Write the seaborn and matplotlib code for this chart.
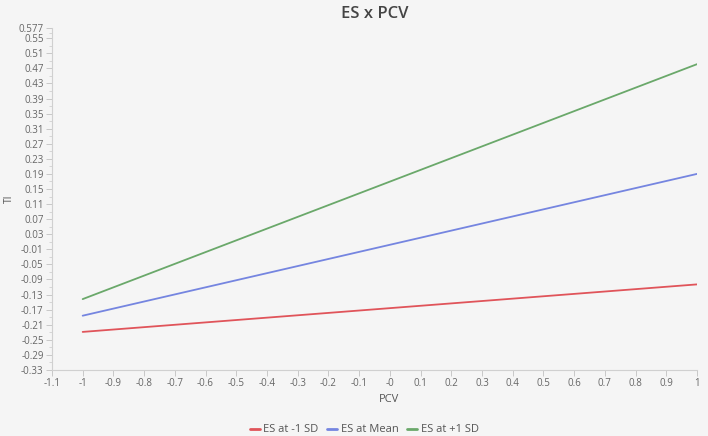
import matplotlib
matplotlib.use("Agg")
import matplotlib.pyplot as plt
import seaborn as sns
import pandas as pd
import numpy as np

# ---- data ----
pcv = [-1.0, 1.0]
es_minus = [-0.229, -0.103]
es_mean = [-0.186, 0.190]
es_plus = [-0.142, 0.481]
series_names = ["ES at -1 SD", "ES at Mean", "ES at +1 SD"]
series_colors = ["#e0545a", "#7585e0", "#6aa86a"]

x_ticks = [-1.1, -1.0, -0.9, -0.8, -0.7, -0.6, -0.5, -0.4, -0.3, -0.2, -0.1, 0.0,
           0.1, 0.2, 0.3, 0.4, 0.5, 0.6, 0.7, 0.8, 0.9, 1.0]
x_tick_labels = ["-1.1", "-1", "-0.9", "-0.8", "-0.7", "-0.6", "-0.5", "-0.4", "-0.3",
                 "-0.2", "-0.1", "-0", "0.1", "0.2", "0.3", "0.4", "0.5", "0.6",
                 "0.7", "0.8", "0.9", "1"]
y_ticks = [-0.33, -0.29, -0.25, -0.21, -0.17, -0.13, -0.09, -0.05, -0.01, 0.03, 0.07,
           0.11, 0.15, 0.19, 0.23, 0.27, 0.31, 0.35, 0.39, 0.43, 0.47, 0.51, 0.55, 0.577]
y_tick_labels = ["-0.33", "-0.29", "-0.25", "-0.21", "-0.17", "-0.13", "-0.09", "-0.05",
                 "-0.01", "0.03", "0.07", "0.11", "0.15", "0.19", "0.23", "0.27", "0.31",
                 "0.35", "0.39", "0.43", "0.47", "0.51", "0.55", "0.577"]

df = pd.DataFrame({
    "PCV": pcv * 3,
    "TI": es_minus + es_mean + es_plus,
    "series": [series_names[0]] * 2 + [series_names[1]] * 2 + [series_names[2]] * 2,
})

sns.set_theme(style="white")
plt.rcParams["font.family"] = ["Open Sans", "DejaVu Sans"]

bg = "#f5f5f5"
fig = plt.figure(figsize=(7.08, 4.36), dpi=100, facecolor=bg)
ax = fig.add_axes([0.0734, 0.1514, 0.911, 0.7844], facecolor=bg)

sns.lineplot(data=df, x="PCV", y="TI", hue="series", hue_order=series_names,
             palette=series_colors, linewidth=1.3, ax=ax, legend=True)

ax.set_xlim(-1.1, 1.0)
ax.set_ylim(-0.33, 0.577)
ax.set_xticks(x_ticks)
ax.set_xticklabels(x_tick_labels)
ax.set_yticks(y_ticks)
ax.set_yticklabels(y_tick_labels)
ax.set_yticks([v + 0.02 for v in y_ticks[:-2]] + [0.563], minor=True)

for s in ["top", "right"]:
    ax.spines[s].set_visible(False)
for s in ["left", "bottom"]:
    ax.spines[s].set_color("#d0d0d0")
    ax.spines[s].set_linewidth(0.8)

ax.tick_params(axis="both", which="major", length=4, width=0.7, color="#c8c8c8",
               labelsize=7, labelcolor="#666666", pad=2, direction="out",
               bottom=True, left=True)
ax.tick_params(axis="y", which="minor", length=2.5, width=0.6, color="#d0d0d0", left=True)

ax.set_xlabel("PCV", fontsize=8, color="#555555")
ax.xaxis.set_label_coords(0.523, -0.07)
ax.set_ylabel("TI", fontsize=7.5, color="#555555")
ax.yaxis.set_label_coords(-0.057, 0.5)
ax.set_title("ES x PCV", fontsize=12, color="#444444", fontweight="semibold", pad=7)

leg = ax.legend(loc="upper center", bbox_to_anchor=(0.484, -0.13), ncol=3, frameon=False,
                fontsize=8, handlelength=0.9, handletextpad=0.3, columnspacing=0.8,
                labelcolor="#555555")
for line in leg.get_lines():
    line.set_linewidth(2)

fig.savefig("out.png", dpi=100, facecolor=bg)
